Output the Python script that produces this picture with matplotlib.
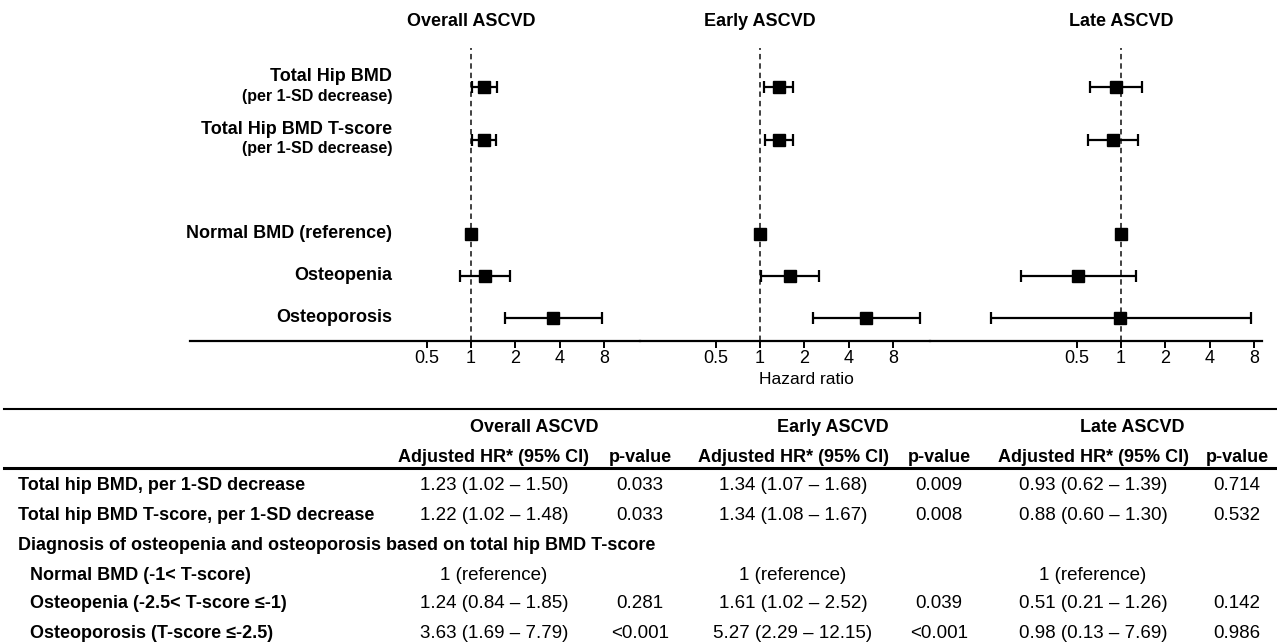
import matplotlib.pyplot as plt
import matplotlib.transforms as mtransforms
import numpy as np

plt.rcParams['font.family'] = ['Liberation Sans', 'DejaVu Sans']

# forest plot rows
plot_labels = ['Total Hip BMD', 'Total Hip BMD T-score', 'Normal BMD (reference)',
               'Osteopenia', 'Osteoporosis']
plot_sublabels = ['(per 1-SD decrease)', '(per 1-SD decrease)', '', '', '']

outcomes = ['Overall ASCVD', 'Early ASCVD', 'Late ASCVD']

overall_hr = [1.23, 1.22, 1.00, 1.24, 3.63]
overall_lo = [1.02, 1.02, 1.00, 0.84, 1.69]
overall_hi = [1.50, 1.48, 1.00, 1.85, 7.79]
overall_p = ['0.033', '0.033', '', '0.281', '<0.001']

early_hr = [1.34, 1.34, 1.00, 1.61, 5.27]
early_lo = [1.07, 1.08, 1.00, 1.02, 2.29]
early_hi = [1.68, 1.67, 1.00, 2.52, 12.15]
early_p = ['0.009', '0.008', '', '0.039', '<0.001']

late_hr = [0.93, 0.88, 1.00, 0.51, 0.98]
late_lo = [0.62, 0.60, 1.00, 0.21, 0.13]
late_hi = [1.39, 1.30, 1.00, 1.26, 7.69]
late_p = ['0.714', '0.532', '', '0.142', '0.986']

reference_row = 2
tick_values = [0.5, 1, 2, 4, 8]
tick_labels = ['0.5', '1', '2', '4', '8']

# table rows
table_labels = ['Total hip BMD, per 1-SD decrease',
                'Total hip BMD T-score, per 1-SD decrease',
                'Normal BMD (-1< T-score)',
                'Osteopenia (-2.5< T-score \u2264-1)',
                'Osteoporosis (T-score \u2264-2.5)']
section_label = 'Diagnosis of osteopenia and osteoporosis based on total hip BMD T-score'

W, H = 1277, 642


def fx(px):
    return px / W


def fy(py):
    return 1 - py / H


fig = plt.figure(figsize=(W / 100, H / 100), dpi=100)

# ---- forest panels ----
row_pos = np.array([0, 1.25, 3.5, 4.5, 5.5])
row_px0, row_step = 87, 42
ax_top, ax_bot = 48, 341
px_per_doubling = 44.3
panel_edges = [(190, 640), (640, 930), (930, 1262)]
one_px = [471, 760, 1121]

series = [(overall_hr, overall_lo, overall_hi),
          (early_hr, early_lo, early_hi),
          (late_hr, late_lo, late_hi)]

axes = []
for i, ((left, right), one, (hr, lo, hi)) in enumerate(zip(panel_edges, one_px, series)):
    ax = fig.add_axes([fx(left), fy(ax_bot), (right - left) / W, (ax_bot - ax_top) / H])
    axes.append(ax)
    ax.set_xscale('log', base=2)
    ax.set_xlim(2 ** ((left - one) / px_per_doubling), 2 ** ((right - one) / px_per_doubling))
    ax.set_ylim((ax_bot - row_px0) / row_step, (ax_top - row_px0) / row_step)

    hr = np.array(hr)
    lo = np.array(lo)
    hi = np.array(hi)
    ax.axvline(1, color='#333333', lw=1.3, ls=(0, (3, 2.2)), zorder=1)
    ax.errorbar(hr, row_pos, xerr=[hr - lo, hi - hr], fmt='s', color='black',
                ms=8.8, capsize=4.5, elinewidth=1.6, capthick=1.6, zorder=3)

    ax.set_xticks(tick_values)
    ax.set_xticklabels(tick_labels)
    ax.xaxis.set_minor_locator(plt.NullLocator())
    ax.tick_params(axis='x', length=5, width=1.4, labelsize=13, pad=1.5)
    ax.set_yticks([])
    for s in ['top', 'left', 'right']:
        ax.spines[s].set_visible(False)
    ax.spines['bottom'].set_linewidth(1.6)
    ax.patch.set_visible(False)

    trans = mtransforms.blended_transform_factory(ax.transData, fig.transFigure)
    ax.text(1, fy(21), outcomes[i], transform=trans, ha='center', va='center',
            fontsize=13, fontweight='bold')

# row labels of forest plot
lab_trans = mtransforms.blended_transform_factory(fig.transFigure, axes[0].transData)
for lab, sub, y in zip(plot_labels, plot_sublabels, row_pos):
    if sub:
        axes[0].text(fx(392), y - 0.25, lab, transform=lab_trans, ha='right', va='center',
                     fontsize=13, fontweight='bold')
        axes[0].text(fx(392), y + 0.22, sub, transform=lab_trans, ha='right', va='center',
                     fontsize=11.5, fontweight='bold')
    else:
        axes[0].text(fx(392), y, lab, transform=lab_trans, ha='right', va='center',
                     fontsize=13, fontweight='bold')

fig.text(fx(806), fy(380), 'Hazard ratio', ha='center', va='center', fontsize=12.5)

# ---- table ----
fig.add_artist(plt.Line2D([fx(4), fx(1277)], [fy(409), fy(409)], color='black', lw=1.5))
fig.add_artist(plt.Line2D([fx(4), fx(1277)], [fy(468), fy(468)], color='black', lw=2.2))

hr_cols = [494, 793, 1093]
p_cols = [640, 939, 1237]
p_series = [overall_p, early_p, late_p]
for name, hc, pc in zip(outcomes, hr_cols, p_cols):
    fig.text(fx((hc + pc) / 2 - 33), fy(425), name, ha='center', va='center_baseline',
             fontsize=13, fontweight='bold')
    fig.text(fx(hc), fy(455), 'Adjusted HR* (95% CI)', ha='center', va='center_baseline',
             fontsize=13, fontweight='bold')
    fig.text(fx(pc), fy(455), 'p-value', ha='center', va='center_baseline',
             fontsize=13, fontweight='bold')

table_y = [483, 513, 573, 602, 631]
fig.text(fx(18), fy(543), section_label, ha='left', va='center_baseline', fontsize=13,
         fontweight='bold')
for k, (lab, y) in enumerate(zip(table_labels, table_y)):
    x0 = 18 if k < 2 else 30
    fig.text(fx(x0), fy(y), lab, ha='left', va='center_baseline', fontsize=13,
             fontweight='bold')
    for (hr, lo, hi), pv, hc, pc in zip(series, p_series, hr_cols, p_cols):
        if k == reference_row:
            txt = '1 (reference)'
        else:
            txt = f'{hr[k]:.2f} ({lo[k]:.2f} \u2013 {hi[k]:.2f})'
        fig.text(fx(hc), fy(y), txt, ha='center', va='center_baseline', fontsize=13.5)
        if pv[k]:
            fig.text(fx(pc), fy(y), pv[k], ha='center', va='center_baseline', fontsize=13.5)

fig.savefig('out.png', dpi=100)
